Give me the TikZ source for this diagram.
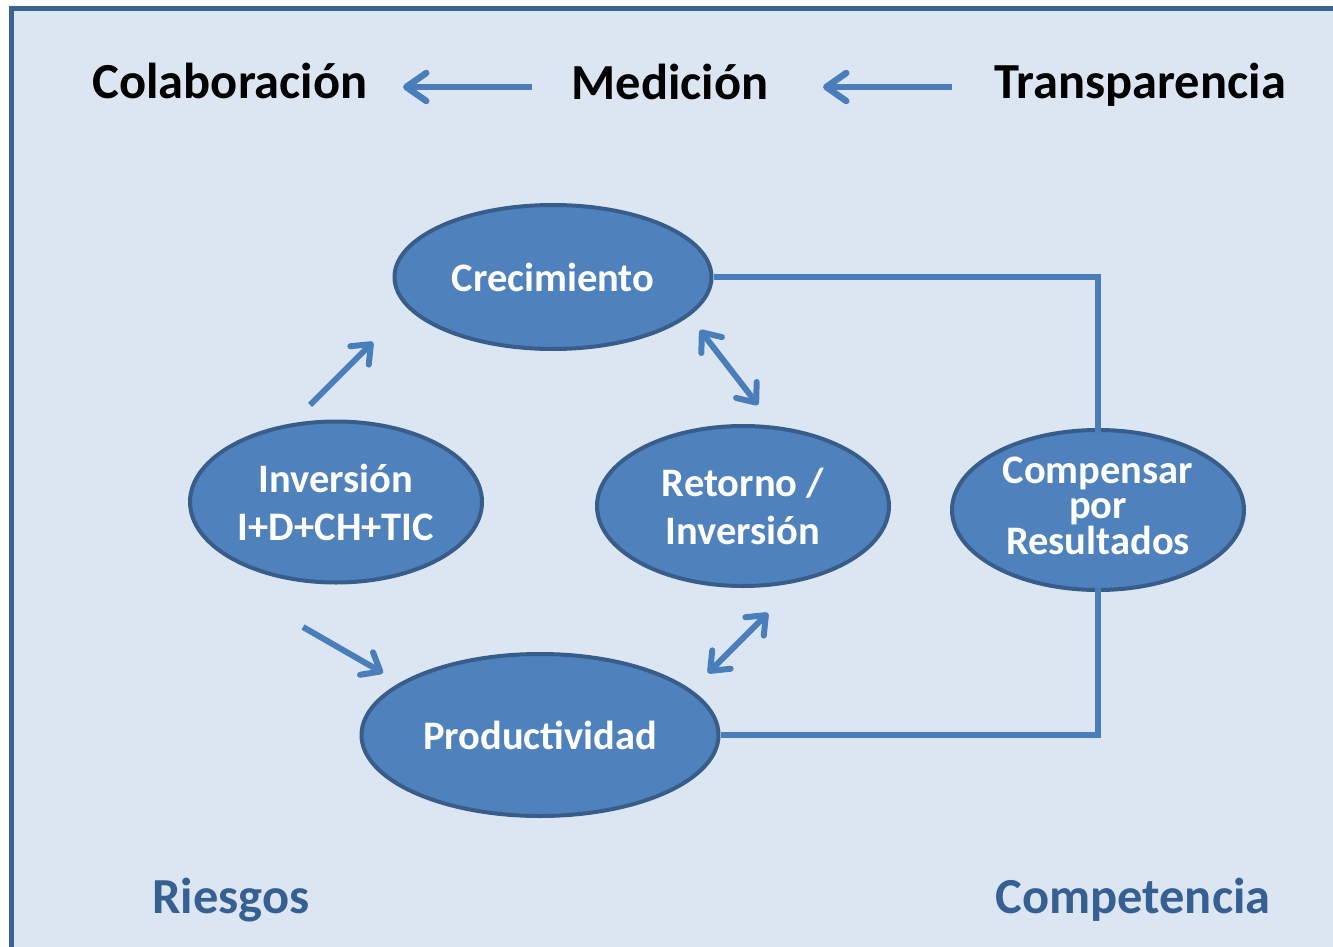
\documentclass[tikz,border=0pt]{standalone}
\usepackage{fontspec}
\setmainfont{Carlito}
\usetikzlibrary{shapes.geometric,arrows.meta}
\definecolor{bgblue}{HTML}{DCE6F2}
\definecolor{framec}{HTML}{3A6391}
\definecolor{ellfill}{HTML}{4F81BD}
\definecolor{elldraw}{HTML}{385D8A}
\definecolor{linec}{HTML}{4A7EBB}
\definecolor{darkt}{HTML}{376092}
\tikzset{
  oval/.style={ellipse, fill=ellfill, draw=elldraw, line width=4pt, inner sep=0pt,
    text=white, align=center, font=\fontsize{40.5}{48}\selectfont\bfseries},
  toptext/.style={anchor=base, font=\fontsize{50.5}{60}\selectfont\bfseries, text=black, inner sep=0pt},
  bottext/.style={anchor=base, font=\fontsize{50.5}{60}\selectfont\bfseries, text=darkt, inner sep=0pt},
  bigarrow/.style={linec, line width=6.5pt, -{Straight Barb[length=20pt,width=28pt,round]}},
  smallarrow/.style={linec, line width=6pt, -{Straight Barb[length=16pt,width=26pt,round]}},
  dblarrow/.style={linec, line width=6pt, {Straight Barb[length=16pt,width=26pt,round]}-{Straight Barb[length=16pt,width=26pt,round]}},
  conn/.style={linec, line width=6pt},
}
\begin{document}
\begin{tikzpicture}[x=1pt,y=-1pt]
\useasboundingbox (0,0) rectangle (1333,947);
\fill[white] (0,0) rectangle (1333,947);
\draw[framec, line width=5pt, fill=bgblue] (11,9) rectangle (1360,980);

\node[toptext] (colab) at (230,99) {Colaboración};
\node[toptext] (medic) at (670,100) {Medición};
\node[toptext] (transp) at (1140,99) {Transparencia};
\coordinate (a1s) at (532,87);
\coordinate (a1e) at (403,87);
\coordinate (a2s) at (952,87);
\coordinate (a2e) at (823,87);
\draw[bigarrow] (a1s) -- (a1e);
\draw[bigarrow] (a2s) -- (a2e);

\node[oval, minimum width=317pt, minimum height=144pt] (crec) at (553,277) {Crecimiento};
\node[oval, minimum width=292pt, minimum height=161pt] (inv) at (336,502) {Inversión\\I+D+CH+TIC};
\node[oval, minimum width=292pt, minimum height=160pt] (ret) at (743,506) {Retorno /\\Inversión};
\node[oval, minimum width=292pt, minimum height=160pt] (comp) at (1098,510) {};
\node[text=white, align=center, inner sep=0pt, font=\fontsize{40.5}{34.5}\selectfont\bfseries] (comptxt) at (1098,506) {Compensar\\por\\Resultados};
\node[oval, minimum width=357pt, minimum height=162pt] (prod) at (540,735) {Productividad};

\coordinate (s1) at (310,405);
\coordinate (e1) at (373,342);
\coordinate (s2) at (303,627);
\coordinate (e2) at (383,673);
\coordinate (s3) at (700,330);
\coordinate (e3) at (758,405);
\coordinate (s4) at (768,613);
\coordinate (e4) at (708,673);
\draw[smallarrow] (s1) -- (e1);
\draw[smallarrow] (s2) -- (e2);
\draw[dblarrow] (s3) -- (e3);
\draw[dblarrow] (s4) -- (e4);

\draw[conn] (crec.east) -| ([yshift=-7pt]comp.north);
\draw[conn] (prod.east) -| ([yshift=4pt]comp.south);

\node[bottext] (ries) at (231,913) {Riesgos};
\node[bottext] (compt) at (1133,913) {Competencia};
\end{tikzpicture}
\end{document}
